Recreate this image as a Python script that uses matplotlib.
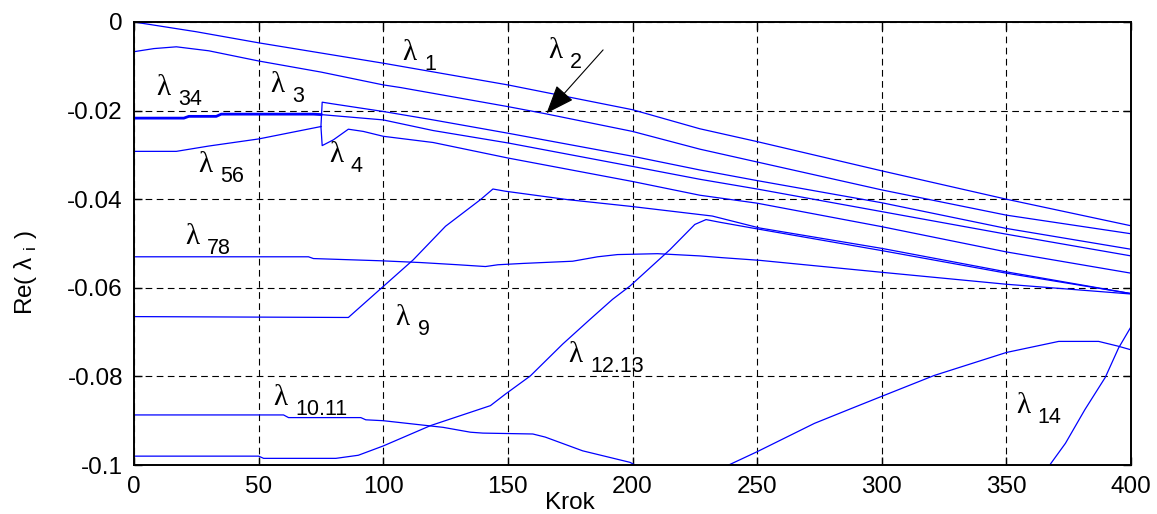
import matplotlib
matplotlib.use('Agg')
import matplotlib.pyplot as plt

# --- data (Krok vs Re(lambda_i)) ---
lam1_x = [0, 25, 50, 75, 100, 150, 200, 227, 250, 300, 350, 400]
lam1_y = [0, -0.0022, -0.0047, -0.0070, -0.0093, -0.0142, -0.0198, -0.0241, -0.0270, -0.0336, -0.0400, -0.0460]

lam2_x = [0, 8, 17, 30, 50, 75, 100, 107, 150, 165, 200, 227, 250, 300, 350, 400]
lam2_y = [-0.0067, -0.0060, -0.0056, -0.0065, -0.0088, -0.0113, -0.0142, -0.0148, -0.0191, -0.0207,
          -0.0247, -0.0287, -0.0316, -0.0379, -0.0436, -0.0478]

lam34_x = [0, 20, 22, 33, 35, 72, 75]
lam34_y = [-0.0217, -0.0217, -0.0213, -0.0213, -0.0208, -0.0208, -0.0209]

# lambda_34 after the split (pair stays together)
mid_x = [75, 100, 120, 150, 200, 227, 250, 300, 350, 400]
mid_y = [-0.0209, -0.0221, -0.0245, -0.0273, -0.0326, -0.0355, -0.0377, -0.0428, -0.0479, -0.0528]

lam56_x = [0, 17, 30, 50, 75]
lam56_y = [-0.0292, -0.0292, -0.0280, -0.0264, -0.0236]

lam3_x = [75, 75.5, 80, 100, 120, 150, 200, 227, 250, 300, 350, 400]
lam3_y = [-0.0236, -0.0181, -0.0185, -0.0202, -0.0221, -0.0251, -0.0303, -0.0334, -0.0358, -0.0408, -0.0466, -0.0513]

lam4_x = [75, 75.5, 80, 86, 92, 100, 120, 150, 200, 227, 250, 300, 350, 400]
lam4_y = [-0.0236, -0.0279, -0.0266, -0.0242, -0.0247, -0.0258, -0.0272, -0.0307, -0.0360, -0.0391,
          -0.0409, -0.0462, -0.0519, -0.0567]

lam78_x = [0, 70, 72, 99, 115, 130, 141, 146, 156, 176, 186, 194, 210, 227, 236, 251, 300, 350, 400]
lam78_y = [-0.0530, -0.0530, -0.0534, -0.0539, -0.0543, -0.0548, -0.0552, -0.0548, -0.0545, -0.0540,
           -0.0530, -0.0525, -0.0523, -0.0528, -0.0532, -0.0538, -0.0565, -0.0592, -0.0614]

lam9_x = [0, 86, 99, 112, 125, 139, 144, 149, 174, 199, 232, 251, 300, 350, 400]
lam9_y = [-0.0665, -0.0667, -0.0602, -0.0537, -0.0461, -0.0401, -0.0377, -0.0382, -0.0401, -0.0416,
          -0.0438, -0.0465, -0.0511, -0.0564, -0.0613]

lam1011_x = [0, 60, 62, 91, 93, 100, 108, 124, 135, 140, 160, 165, 180, 199, 201]
lam1011_y = [-0.0887, -0.0887, -0.0893, -0.0893, -0.0898, -0.0900, -0.0905, -0.0915, -0.0926, -0.0928,
             -0.0930, -0.0937, -0.0968, -0.0994, -0.1000]

lam1213_x = [0, 50, 52, 81, 90, 100, 119, 143, 149, 159, 172, 183, 192, 199, 215, 225, 229.5, 235, 251,
             300, 350, 400]
lam1213_y = [-0.0980, -0.0980, -0.0985, -0.0985, -0.0978, -0.0957, -0.0911, -0.0866, -0.0840, -0.0799,
             -0.0727, -0.0671, -0.0626, -0.0596, -0.0514, -0.0457, -0.0446, -0.0452, -0.0468, -0.0516,
             -0.0567, -0.0613]

lam14_x = [238.6, 250, 273, 288, 300, 321, 350, 371, 387, 395, 400]
lam14_y = [-0.1000, -0.0970, -0.0906, -0.0872, -0.0845, -0.0798, -0.0746, -0.0721, -0.0721, -0.0732, -0.0740]

steep_x = [367.4, 373.7, 381.5, 389.7, 395, 400]
steep_y = [-0.1000, -0.0951, -0.0875, -0.0802, -0.0736, -0.0688]

x_ticks = [0, 50, 100, 150, 200, 250, 300, 350, 400]
y_ticks = [-0.1, -0.08, -0.06, -0.04, -0.02, 0]
y_tick_labels = ['-0.1', '-0.08', '-0.06', '-0.04', '-0.02', '0']


def lam_label(ax, x, y, sub):
    """ lambda glyph plus a big, lowered subscript like the MATLAB figure """
    ax.text(x, y, 'λ', family='Liberation Serif', fontsize=21, ha='left', va='baseline')
    ax.annotate(sub, xy=(x, y), xytext=(22, -10), textcoords='offset pixels',
                fontsize=15.5, ha='left', va='baseline')


def main():
    plt.rcParams['font.family'] = ['Liberation Sans', 'DejaVu Sans']
    plt.rcParams['mathtext.fontset'] = 'custom'
    plt.rcParams['mathtext.rm'] = 'Liberation Sans'

    fig = plt.figure(figsize=(11.57, 5.14), dpi=100)
    ax = fig.add_axes([134 / 1157, 49 / 514, 997 / 1157, 443 / 514])

    blue = '#0000ff'
    ax.plot(lam34_x, lam34_y, color=blue, lw=2.0)
    for xs, ys in [(lam1_x, lam1_y), (lam2_x, lam2_y), (mid_x, mid_y), (lam56_x, lam56_y),
                   (lam3_x, lam3_y), (lam4_x, lam4_y), (lam78_x, lam78_y), (lam9_x, lam9_y),
                   (lam1011_x, lam1011_y), (lam1213_x, lam1213_y), (lam14_x, lam14_y),
                   (steep_x, steep_y)]:
        ax.plot(xs, ys, color=blue, lw=0.9)

    ax.set_xlim(0, 400)
    ax.set_ylim(-0.1, 0)
    ax.set_xticks(x_ticks)
    ax.set_yticks(y_ticks)
    ax.set_yticklabels(y_tick_labels)
    ax.tick_params(direction='in', length=6, width=1, labelsize=17.5, top=True, right=True, pad=8)
    ax.grid(True, color='k', linestyle=(0, (6, 4)), linewidth=0.8)
    for s in ax.spines.values():
        s.set_linewidth(1.4)

    # axis labels (MATLAB placed Krok left of centre)
    ax.text(0.437, -0.086, 'Krok', transform=ax.transAxes, fontsize=17.5, ha='center', va='center')
    ax.text(-0.109, 0.433, r'Re( λ $_{\mathrm{i}}$ )', transform=ax.transAxes, fontsize=17.5,
            rotation=90, ha='center', va='center')

    lam_label(ax, 107.5, -0.0086, '1')
    lam_label(ax, 166.1, -0.0082, '2')
    lam_label(ax, 9.1, -0.0165, '34')
    lam_label(ax, 54.6, -0.0157, '3')
    lam_label(ax, 25.7, -0.0338, '56')
    lam_label(ax, 78.2, -0.0315, '4')
    lam_label(ax, 20.5, -0.0500, '78')
    lam_label(ax, 105, -0.0684, '9')
    lam_label(ax, 55.8, -0.0865, '10.11')
    lam_label(ax, 174.1, -0.0767, '12.13')
    lam_label(ax, 353.8, -0.0883, '14')

    # arrow pointing at lambda_2
    ax.annotate('', xy=(165.5, -0.0206), xytext=(188.2, -0.0063),
                arrowprops=dict(arrowstyle='-|>,head_length=0.9,head_width=0.35', color='k',
                                lw=0.8, mutation_scale=20, shrinkA=0, shrinkB=0))

    fig.savefig('out.png', dpi=100)


if __name__ == '__main__':
    main()
